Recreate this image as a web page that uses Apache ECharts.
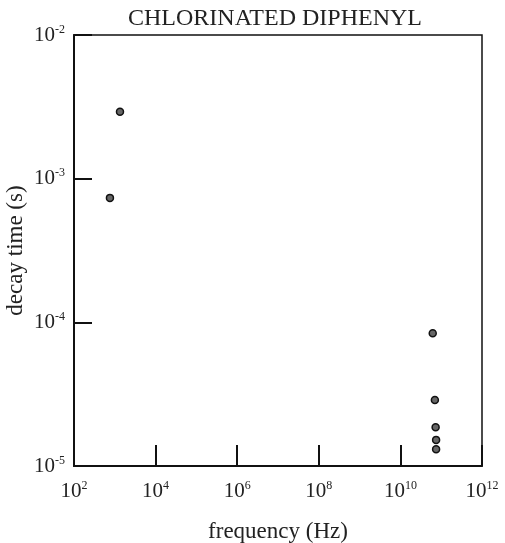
<!DOCTYPE html>
<html>
<head>
<meta charset="utf-8">
<script src="https://cdn.jsdelivr.net/npm/echarts@6/dist/echarts.min.js"></script>
<style>
html,body{margin:0;padding:0;background:#fff;}
#c{width:505px;height:543px;}
</style>
</head>
<body>
<div id="c"></div>
<script>
// frequency (Hz)
var frequency = [1.34e3, 7.6e2, 6.2e10, 7.0e10, 7.3e10, 7.5e10, 7.5e10];
// decay time (s)
var decayTime = [2.92e-3, 7.35e-4, 8.4e-5, 2.88e-5, 1.86e-5, 1.52e-5, 1.31e-5];
var titleText = 'CHLORINATED DIPHENYL';
var xName = 'frequency (Hz)';
var yName = 'decay time (s)';

var pts = frequency.map(function(f, i){ return [f, decayTime[i]]; });
var FONT = '"Liberation Serif", "DejaVu Serif", serif';
function supFmt(v){
  var e = Math.round(Math.log10(v));
  return '{b|10}{s|' + e + '}';
}
var rich = {
  b: {fontFamily: FONT, fontSize: 21, color: '#222'},
  s: {fontFamily: FONT, fontSize: 12, color: '#222', verticalAlign: 'top', padding: [0,0,11,0]}
};

var chart = echarts.init(document.getElementById('c'));
chart.setOption({
  backgroundColor: '#fff',
  animation: false,
  title: {
    text: titleText, left: 270, top: 2, textAlign: 'center',
    textStyle: {fontFamily: FONT, fontSize: 24, fontWeight: 'normal', color: '#222'}
  },
  grid: {left: 74, right: 23, top: 35, bottom: 77, show: true, borderColor: '#111', borderWidth: 1.5,
         backgroundColor: 'transparent', containLabel: false, outerBoundsMode: 'none'},
  xAxis: {
    type: 'log', logBase: 100, min: 1e2, max: 1e12,
    name: xName, nameLocation: 'middle', nameGap: 54, nameMoveOverlap: false,
    nameTextStyle: {fontFamily: FONT, fontSize: 23, color: '#222'},
    axisLine: {lineStyle: {color: '#111', width: 2}},
    axisTick: {inside: true, length: 21, lineStyle: {color: '#111', width: 2}},
    minorTick: {show: false},
    splitLine: {show: false},
    axisLabel: {formatter: supFmt, rich: rich, margin: 14, showMinLabel: true, showMaxLabel: true}
  },
  yAxis: {
    type: 'log', logBase: 10, min: 1e-5, max: 1e-2,
    name: yName, nameLocation: 'middle', nameGap: 47, nameMoveOverlap: false,
    nameTextStyle: {fontFamily: FONT, fontSize: 23, color: '#222'},
    axisLine: {lineStyle: {color: '#111', width: 2}},
    axisTick: {inside: true, length: 18, lineStyle: {color: '#111', width: 2}},
    splitLine: {show: false},
    axisLabel: {formatter: supFmt, rich: rich, margin: 9, showMinLabel: true, showMaxLabel: true}
  },
  series: [{
    type: 'scatter', data: pts, symbol: 'circle', symbolSize: 7,
    itemStyle: {color: '#666', borderColor: '#111', borderWidth: 1.5, opacity: 1}
  }]
});
</script>
</body>
</html>
